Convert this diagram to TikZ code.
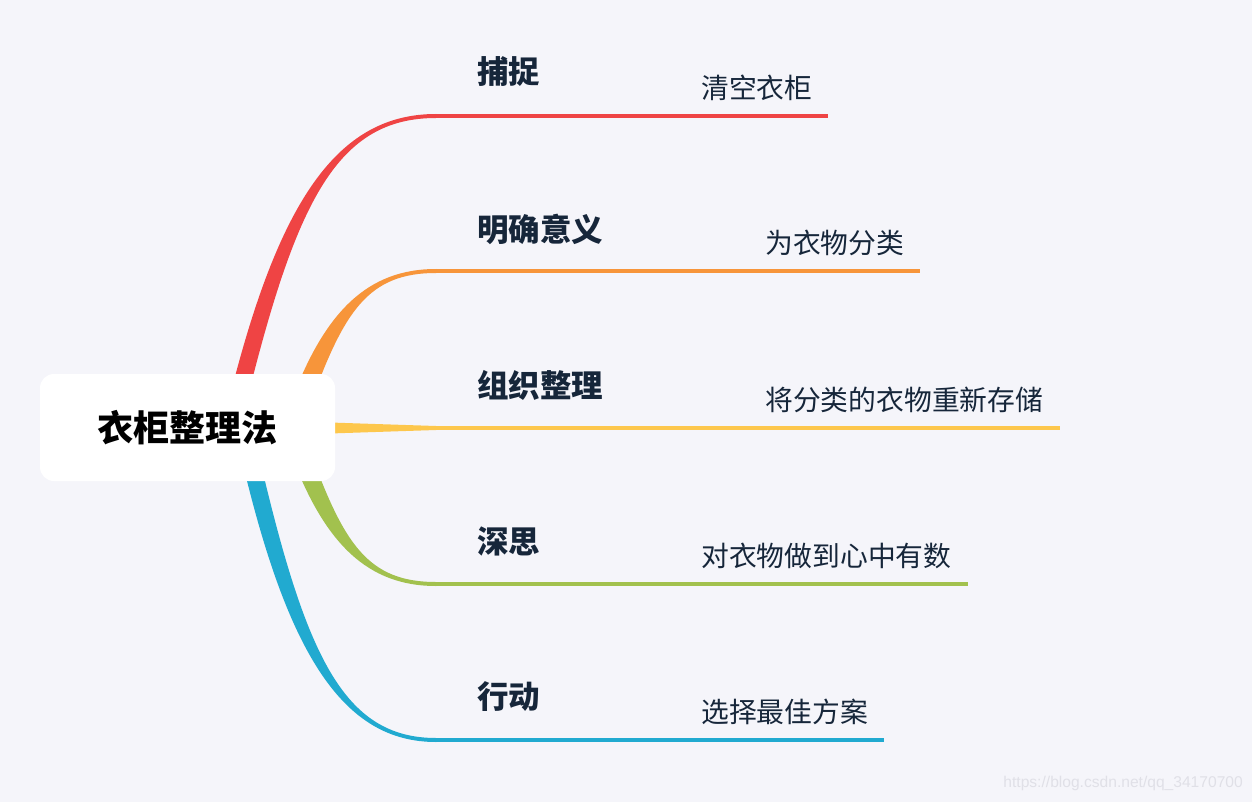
\documentclass[tikz,border=0pt]{standalone}
\usepackage{fontspec}
\setmainfont{Liberation Sans}
\newfontfamily\cjk{Noto Sans CJK SC}
\usetikzlibrary{calc}
\definecolor{pagebg}{RGB}{245,245,250}
\definecolor{inkdark}{RGB}{22,38,58}
\definecolor{redbranch}{RGB}{239,68,68}
\definecolor{orangebranch}{RGB}{247,149,58}
\definecolor{yellowbranch}{RGB}{253,199,76}
\definecolor{greenbranch}{RGB}{162,193,78}
\definecolor{bluebranch}{RGB}{33,170,208}
\definecolor{urlgray}{RGB}{224,224,231}

% tapered limb: start, junction, colour, half width at start, half width at junction (signed)
\newcommand\limb[5]{%
  \fill[#3] let \p1=(#1), \p2=(#2) in
    ({\x1-#4pt},\y1) .. controls ({\x1+0.25*(\x2-\x1)-#4pt},{\y1+0.7*(\y2-\y1)}) and ({\x1+0.5*(\x2-\x1)},{\y2+(#5pt)}) .. (\x2,{\y2+(#5pt)})
    -- (\x2,{\y2-(#5pt)}) .. controls ({\x1+0.5*(\x2-\x1)},{\y2-(#5pt)}) and ({\x1+0.25*(\x2-\x1)+#4pt},{\y1+0.7*(\y2-\y1)}) .. ({\x1+#4pt},\y1) -- cycle;}

\begin{document}
\begin{tikzpicture}[x=1pt, y=-1pt,
  root/.style={fill=white, rounded corners=14pt, minimum width=295pt, minimum height=107pt, inner sep=0pt, text=black, font=\cjk\bfseries\fontsize{36}{40}\selectfont},
  topic/.style={anchor=west, inner sep=0pt, text=inkdark, font=\cjk\bfseries\fontsize{31.5}{36}\selectfont},
  detail/.style={anchor=west, inner sep=0pt, text=inkdark, font=\cjk\fontsize{27.8}{32}\selectfont},
  twig/.style={line width=4pt}
]
\useasboundingbox (0,0) rectangle (1252,802);
\fill[pagebg] (0,0) rectangle (1252,802);

% limbs start inside the root box
\coordinate (s1) at (238,400);
\coordinate (s2) at (300,405);
\coordinate (s3) at (330,428);
\coordinate (s4) at (300,451);
\coordinate (s5) at (250,456);
\coordinate (j1) at (436,116);
\coordinate (j2) at (436,271);
\coordinate (j3) at (436,428);
\coordinate (j4) at (436,584);
\coordinate (j5) at (436,740);
\coordinate (e1) at (828,116);
\coordinate (e2) at (920,271);
\coordinate (e3) at (1060,428);
\coordinate (e4) at (968,584);
\coordinate (e5) at (884,740);

\limb{s1}{j1}{redbranch}{9}{2}
\limb{s2}{j2}{orangebranch}{10}{2}
\fill[yellowbranch] ($(s3)+(0,-5.5)$) -- ($(j3)+(0,-2)$) -- ($(j3)+(0,2)$) -- ($(s3)+(0,5.5)$) -- cycle;
\limb{s4}{j4}{greenbranch}{10}{-2}
\limb{s5}{j5}{bluebranch}{9}{-2}

\draw[twig, redbranch] (j1) -- (e1);
\draw[twig, orangebranch] (j2) -- (e2);
\draw[twig, yellowbranch] (j3) -- (e3);
\draw[twig, greenbranch] (j4) -- (e4);
\draw[twig, bluebranch] (j5) -- (e5);

\node[root] (root) at (187.5,427.5) {衣柜整理法};

\node[topic] (catch) at (477,72) {捕捉};
\node[topic] (meaning) at (477,229) {明确意义};
\node[topic] (organize) at (477,385) {组织整理};
\node[topic] (reflect) at (477,541) {深思};
\node[topic] (act) at (477,697) {行动};

\node[detail] (empty) at (701,88) {清空衣柜};
\node[detail] (sort) at (765,243) {为衣物分类};
\node[detail] (store) at (765,400) {将分类的衣物重新存储};
\node[detail] (mind) at (701,556) {对衣物做到心中有数};
\node[detail] (choose) at (701,712) {选择最佳方案};

\node[anchor=east, inner sep=0pt, text=urlgray, font=\fontsize{15.6}{18}\selectfont] (url) at (1243,783) {https://blog.csdn.net/qq\_34170700};
\end{tikzpicture}
\end{document}
